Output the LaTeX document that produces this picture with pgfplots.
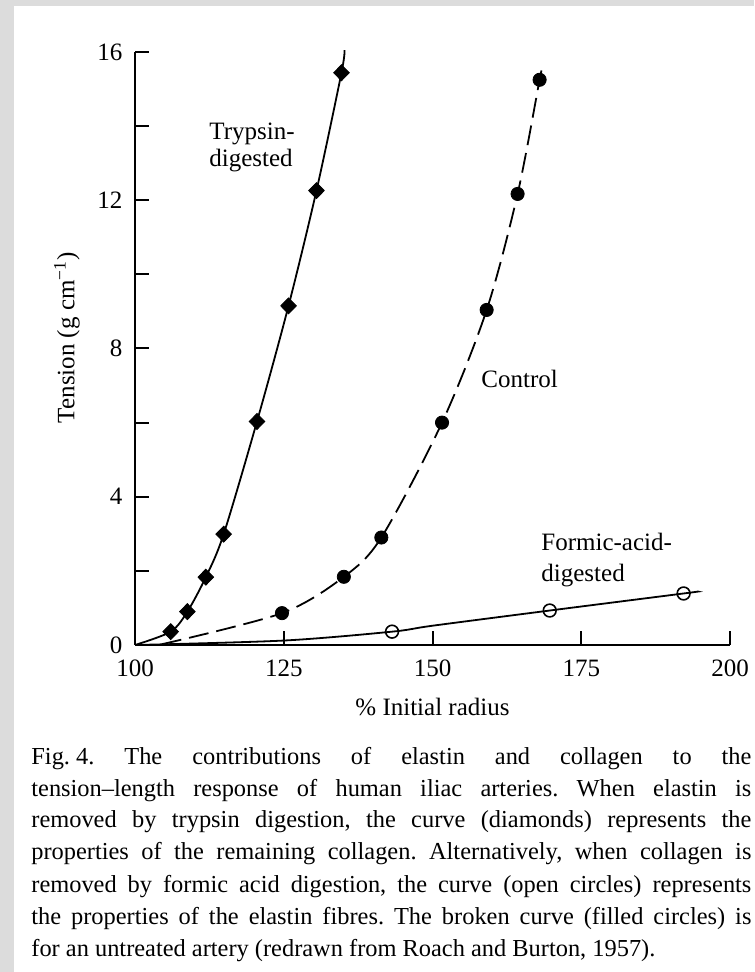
\documentclass[border=0pt]{standalone}
\usepackage{fontspec}
\setmainfont{Liberation Serif}
\usepackage{pgfplots}
\pgfplotsset{compat=1.18}
\definecolor{bgGray}{HTML}{DCDCDC}
\begin{document}
\fontsize{12.5}{16}\selectfont\frenchspacing
\begin{tikzpicture}[x=0.5pt,y=0.5pt]
\path[use as bounding box, clip] (0,0) rectangle (754,972);
\fill[bgGray] (0,0) rectangle (754,972);
\fill[white] (14,0) rectangle (754,966);
\begin{axis}[
  at={(67.5pt,163.5pt)}, anchor=south west,
  scale only axis, width=297.5pt, height=296.5pt,
  xmin=100, xmax=200, ymin=0, ymax=16,
  axis x line*=bottom, axis y line*=left,
  x axis line style={-}, y axis line style={-},
  axis line style={line width=1pt, black},
  xtick={100,125,150,175,200},
  ytick={0,4,8,12,16},
  minor ytick={2,6,10,14},
  tick align=inside,
  major tick length=7pt, minor tick length=7pt,
  tick style={black, line width=1pt},
  tick label style={font=\fontsize{12.5}{15}\selectfont},
  /pgf/number format/assume math mode=true,
  xticklabel style={yshift=-3pt},
  yticklabel style={xshift=-2pt},
  xlabel={\% Initial radius},
  ylabel={Tension (g cm\textsuperscript{−1})},
  every axis x label/.style={at={(axis description cs:0.5,-0.1046)}, anchor=center},
  every axis y label/.style={at={(axis description cs:-0.1143,0.518)}, rotate=90, anchor=center},
  label style={font=\fontsize{12.5}{15}\selectfont},
  clip=false,
]
% Trypsin-digested (diamonds, solid)
\addplot[black, line width=0.9pt, smooth] coordinates {
  (100,0) (106.0,0.36) (108.8,0.90) (111.9,1.83) (114.9,2.99) (120.5,6.03)
  (125.8,9.15) (130.5,12.26) (134.7,15.44) (135.2,16.05)};
\addplot[only marks, mark=diamond*, mark size=4pt, mark options={black, xscale=1.3}] coordinates {
  (106.0,0.36) (108.8,0.90) (111.9,1.83) (114.9,2.99) (120.5,6.03)
  (125.8,9.15) (130.5,12.26) (134.7,15.44)};
% Control (filled circles, dashed)
\addplot[black, line width=0.9pt, smooth, dash pattern=on 10pt off 4pt] coordinates {
  (104.5,0.02) (124.7,0.86) (135.1,1.84) (141.4,2.90) (151.6,6.00)
  (159.1,9.04) (164.3,12.17) (168.0,15.25) (168.4,15.56)};
\addplot[only marks, mark=*, mark size=3.3pt, mark options={black}] coordinates {
  (124.7,0.86) (135.1,1.84) (141.4,2.90) (151.6,6.00)
  (159.1,9.04) (164.3,12.17) (168.0,15.25)};
% Formic-acid-digested (open circles, solid)
\addplot[black, line width=0.9pt, smooth] coordinates {
  (100,0) (125,0.12) (143.2,0.36) (150,0.52) (169.7,0.93) (192.2,1.39) (194.5,1.44)};
\addplot[only marks, mark=o, mark size=3.2pt, mark options={black, line width=0.8pt}] coordinates {
  (143.2,0.36) (169.7,0.93) (192.2,1.39)};
\node[anchor=base west, inner sep=0] at (axis cs:112.44,13.63) {Trypsin-};
\node[anchor=base west, inner sep=0] at (axis cs:112.44,12.90) {digested};
\node[anchor=base west, inner sep=0] at (axis cs:158.15,6.96) {Control};
\node[anchor=base west, inner sep=0] at (axis cs:168.24,2.54) {Formic-acid-};
\node[anchor=base west, inner sep=0] at (axis cs:168.24,1.70) {digested};
\end{axis}
\begin{scope}[every node/.style={anchor=base west, inner sep=0, font=\fontsize{12.2}{16}\selectfont}]
\node at (31,207) {\makebox[360pt][s]{\mbox{Fig. 4.} The contributions of elastin and collagen to the}};
\node at (31,175) {\makebox[360pt][s]{tension–length response of human iliac arteries. When elastin is}};
\node at (31,144) {\makebox[360pt][s]{removed by trypsin digestion, the curve (diamonds) represents the}};
\node at (31,112) {\makebox[360pt][s]{properties of the remaining collagen. Alternatively, when collagen is}};
\node at (31,79) {\makebox[360pt][s]{removed by formic acid digestion, the curve (open circles) represents}};
\node at (31,47) {\makebox[360pt][s]{the properties of the elastin fibres. The broken curve (filled circles) is}};
\node at (31,15) {for an untreated artery (redrawn from Roach and Burton, 1957).};
\end{scope}
\end{tikzpicture}
\end{document}
